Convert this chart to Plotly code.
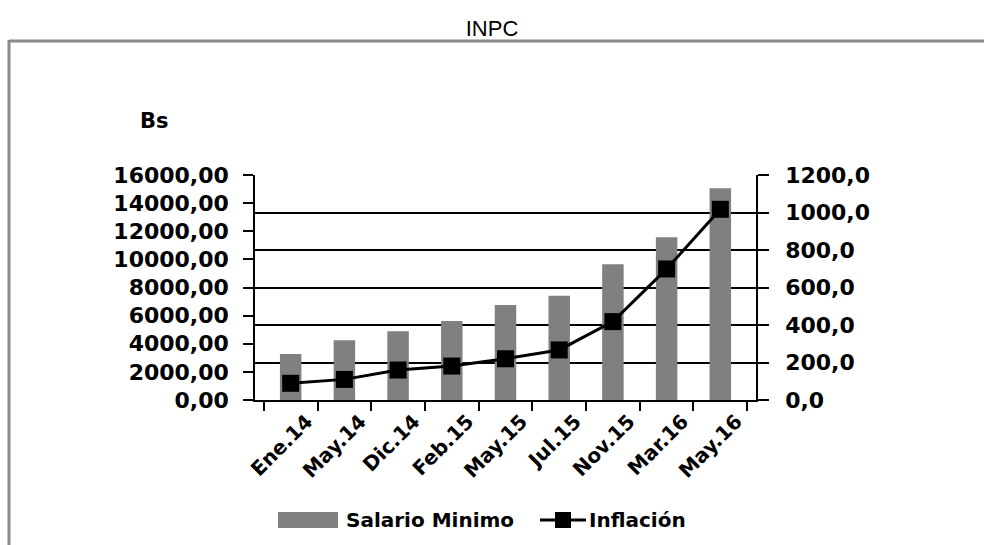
import plotly.graph_objects as go

categories = ["Ene.14", "May.14", "Dic.14", "Feb.15", "May.15", "Jul.15", "Nov.15", "Mar.16", "May.16"]
salario_minimo = [3270.30, 4251.40, 4889.11, 5622.48, 6746.98, 7421.68, 9648.18, 11577.81, 15051.15]
inflacion = [89, 110, 160, 181, 220, 267, 418, 699, 1017]

W, H = 984, 545
L, R, T, B = 255, 756, 175, 400  # plot area in pixels

def px(x):
    return (x - L) / (R - L)

def py(y):
    return (B - y) / (B - T)

BOLD = "DejaVu Sans"

fig = go.Figure()
fig.add_trace(go.Bar(
    x=categories, y=salario_minimo, name="Salario Minimo",
    marker=dict(color="#808080", line=dict(width=0)),
    yaxis="y", showlegend=False,
))
fig.add_trace(go.Scatter(
    x=categories, y=inflacion, name="Inflación", mode="lines+markers",
    line=dict(color="black", width=3),
    marker=dict(symbol="square", size=17, color="black"),
    yaxis="y2", showlegend=False,
))

shapes = [
    # outer frame (top and left only visible)
    dict(type="line", xref="paper", yref="paper", x0=px(9), x1=px(990), y0=py(41), y1=py(41),
         line=dict(color="#8a8a8a", width=3)),
    dict(type="line", xref="paper", yref="paper", x0=px(9), x1=px(9), y0=py(40), y1=py(550),
         line=dict(color="#8a8a8a", width=3)),
    # custom legend
    dict(type="rect", xref="paper", yref="paper", x0=px(278), x1=px(338), y0=py(528), y1=py(512),
         fillcolor="#808080", line=dict(width=0)),
    dict(type="line", xref="paper", yref="paper", x0=px(540), x1=px(586), y0=py(520), y1=py(520),
         line=dict(color="black", width=3)),
    dict(type="rect", xref="paper", yref="paper", x0=px(555), x1=px(571), y0=py(528), y1=py(512),
         fillcolor="black", line=dict(width=0)),
]

annotations = [
    dict(text="<b>Bs</b>", xref="paper", yref="paper", x=px(138), y=py(121), xanchor="left",
         yanchor="middle", showarrow=False, font=dict(family=BOLD, size=21, color="black")),
    dict(text="<b>Salario Minimo</b>", xref="paper", yref="paper", x=px(344), y=py(520), xanchor="left",
         yanchor="middle", showarrow=False, font=dict(family=BOLD, size=20, color="black")),
    dict(text="<b>Inflación</b>", xref="paper", yref="paper", x=px(587), y=py(520), xanchor="left",
         yanchor="middle", showarrow=False, font=dict(family=BOLD, size=20, color="black")),
]

fig.update_layout(
    width=W, height=H,
    margin=dict(l=L, r=W - R, t=T, b=H - B, pad=0),
    paper_bgcolor="white", plot_bgcolor="white",
    separators=",.",
    bargap=0.6,
    title=dict(text="INPC", x=0.5, xanchor="center", y=1 - 28 / H, yanchor="middle",
               font=dict(family="Liberation Sans, Arial", size=22, color="black")),
    xaxis=dict(
        type="category", showline=True, linecolor="black", linewidth=1.5,
        ticks="outside", ticklen=9, tickwidth=1.5, tickcolor="black", tickson="boundaries",
        tickangle=-45, showgrid=False, zeroline=False, ticklabelshift=16,
        tickfont=dict(family=BOLD, size=20, color="black", weight="bold"),
    ),
    yaxis=dict(
        range=[0, 16000], dtick=2000, tick0=0, tickformat=".2f",
        showline=True, linecolor="black", linewidth=1.5,
        ticks="outside", ticklen=10, tickwidth=1.5, tickcolor="black",
        showgrid=False, zeroline=False, ticklabelstandoff=10,
        tickfont=dict(family=BOLD, size=22, color="black", weight="bold"),
    ),
    yaxis2=dict(
        range=[0, 1200], dtick=200, tick0=0, tickformat=".1f",
        overlaying="y", side="right",
        showline=True, linecolor="black", linewidth=1.5,
        ticks="outside", ticklen=11, tickwidth=1.5, tickcolor="black",
        showgrid=True, gridcolor="black", gridwidth=1.5, zeroline=False,
        ticklabelstandoff=12,
        tickfont=dict(family=BOLD, size=22, color="black", weight="bold"),
    ),
    shapes=shapes,
    annotations=annotations,
)

fig.write_html(
    "out.html",
    config={"displayModeBar": False},
    post_script="document.body.style.margin='0';document.body.style.overflow='hidden';",
)
